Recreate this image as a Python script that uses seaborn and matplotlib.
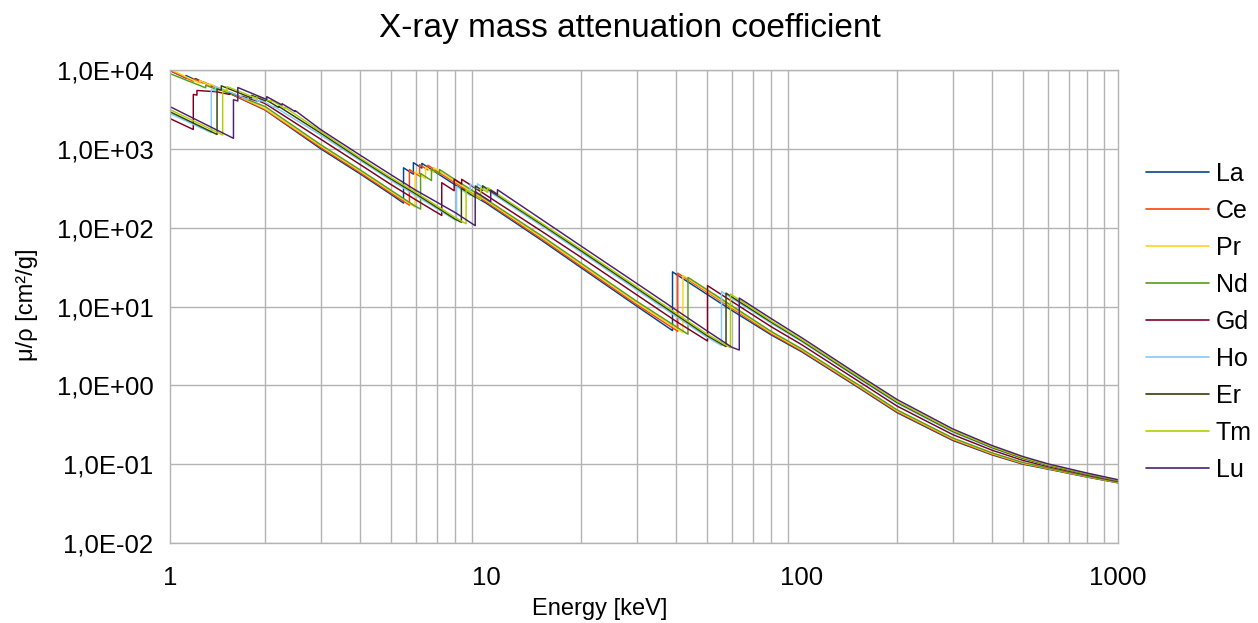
import numpy as np
import pandas as pd
import matplotlib
matplotlib.use('Agg')
import matplotlib.pyplot as plt
import matplotlib.ticker as mticker
import seaborn as sns

# mass attenuation coefficient mu/rho [cm2/g] vs photon energy [keV]
elements = ['La', 'Ce', 'Pr', 'Nd', 'Gd', 'Ho', 'Er', 'Tm', 'Lu']

la_energy = [1.0, 1.123, 1.123, 1.204, 1.204, 1.362, 1.362, 1.5, 2.0, 3.0,
             4.0, 5.0, 5.483, 5.483, 5.891, 5.891, 6.266, 6.266, 8.0, 10.0,
             15.0, 20.0, 30.0, 38.925, 38.925, 40.0, 50.0, 60.0, 80.0, 100.0,
             150.0, 200.0, 300.0, 400.0, 500.0, 600.0, 800.0, 1000.0]
la_mu = [9800, 7890, 8520, 7480, 7780, 6180, 6370, 5320, 3107, 1000,
         480, 265, 205, 575, 477, 668, 569, 655, 347, 205,
         69, 31, 10.1, 4.95, 27.5, 25.6, 14.3, 8.9, 4.35, 2.65,
         0.95, 0.45, 0.200, 0.131, 0.100, 0.0865, 0.0685, 0.058]

ce_energy = [1.0, 1.185, 1.185, 1.273, 1.273, 1.435, 1.435, 1.5, 2.0, 3.0,
             4.0, 5.0, 5.723, 5.723, 6.164, 6.164, 6.549, 6.549, 8.0, 10.0,
             15.0, 20.0, 30.0, 40.443, 40.443, 50.0, 60.0, 80.0, 100.0, 150.0,
             200.0, 300.0, 400.0, 500.0, 600.0, 800.0, 1000.0]
ce_mu = [9900, 7210, 7790, 6815, 7090, 5665, 5835, 5375, 3140, 1040,
         499, 276, 193, 547, 451, 631, 539, 620, 368, 214,
         72.1, 32.4, 10.58, 4.85, 26.5, 15.3, 9.5, 4.50, 2.73, 0.976,
         0.462, 0.205, 0.1336, 0.1016, 0.0876, 0.0691, 0.0584]

pr_energy = [1.0, 1.242, 1.242, 1.337, 1.337, 1.511, 1.511, 2.0, 3.0, 4.0,
             5.0, 5.964, 5.964, 6.440, 6.440, 6.835, 6.835, 8.0, 10.0, 15.0,
             20.0, 30.0, 41.991, 41.991, 50.0, 60.0, 80.0, 100.0, 150.0, 200.0,
             300.0, 400.0, 500.0, 600.0, 800.0, 1000.0]
pr_mu = [10200, 6800, 7345, 6400, 6650, 5295, 5455, 3230, 1083, 519,
         287, 183, 511, 418, 586, 502, 577, 383, 222, 75.3,
         33.9, 11.1, 4.65, 24.8, 15.7, 9.8, 4.65, 2.81, 1.00, 0.475,
         0.210, 0.136, 0.1033, 0.0884, 0.0697, 0.0588]

nd_energy = [1.0, 1.0, 1.297, 1.297, 1.403, 1.403, 1.575, 1.575, 2.0, 3.0,
             4.0, 5.0, 6.0, 6.208, 6.208, 6.722, 6.722, 7.126, 7.126, 8.0,
             10.0, 15.0, 20.0, 30.0, 43.569, 43.569, 50.0, 60.0, 80.0, 100.0,
             150.0, 200.0, 300.0, 400.0, 500.0, 600.0, 800.0, 1000.0]
nd_mu = [7500, 9000, 5940, 6415, 5660, 5885, 4890, 5040, 3437, 1127,
         540, 299, 185, 172, 487, 396, 554, 476, 547, 405,
         230, 78.7, 35.5, 11.63, 4.45, 23.4, 16.4, 10.2, 4.81, 2.89,
         1.03, 0.488, 0.215, 0.139, 0.105, 0.0893, 0.0703, 0.0591]

gd_energy = [1.0, 1.185, 1.185, 1.217, 1.217, 1.4, 1.544, 1.544, 1.688, 1.688,
             1.881, 1.881, 2.0, 3.0, 4.0, 5.0, 6.0, 7.243, 7.243, 7.930,
             7.930, 8.376, 8.376, 10.0, 15.0, 20.0, 30.0, 40.0, 50.239, 50.239,
             60.0, 80.0, 100.0, 150.0, 200.0, 300.0, 400.0, 500.0, 600.0, 800.0,
             1000.0]
gd_mu = [2420, 1760, 4900, 4800, 5500, 5300, 4900, 5200, 4500, 4650,
         4050, 4150, 3750, 1323, 631, 353, 225, 143, 372, 294,
         412, 358, 411, 259, 90, 42, 14.06, 6.47, 3.65, 18.4,
         11.6, 5.52, 3.26, 1.146, 0.545, 0.237, 0.150, 0.1118, 0.0932, 0.0726,
         0.0607]

ho_energy = [1.0, 1.351, 1.351, 1.392, 1.392, 1.5, 1.768, 1.768, 1.923, 1.923,
             2.0, 2.128, 2.128, 3.0, 4.0, 5.0, 6.0, 8.071, 8.071, 8.918,
             8.918, 9.394, 9.394, 10.0, 15.0, 20.0, 30.0, 40.0, 50.0, 55.618,
             55.618, 60.0, 80.0, 100.0, 150.0, 200.0, 300.0, 400.0, 500.0, 600.0,
             800.0, 1000.0]
ho_mu = [2800, 1600, 5600, 5450, 6200, 5500, 4230, 4570, 3995, 4155,
         3900, 3360, 3460, 1490, 710, 399, 255, 122, 332, 256,
         358, 313, 360, 306, 105, 48.7, 16.2, 7.45, 4.08, 3.2,
         15.5, 12.7, 6.11, 3.56, 1.24, 0.591, 0.254, 0.159, 0.1173, 0.0962,
         0.0744, 0.0619]

er_energy = [1.0, 1.409, 1.409, 1.453, 1.453, 1.5, 1.812, 1.812, 2.006, 2.006,
             2.206, 2.206, 3.0, 4.0, 5.0, 6.0, 8.0, 8.358, 8.358, 9.264,
             9.264, 9.751, 9.751, 10.0, 15.0, 20.0, 30.0, 40.0, 50.0, 57.486,
             57.486, 60.0, 80.0, 100.0, 150.0, 200.0, 300.0, 400.0, 500.0, 600.0,
             800.0, 1000.0]
er_mu = [2950, 1520, 5700, 5550, 6300, 6000, 4420, 4775, 4060, 4220,
         3360, 3460, 1580, 738, 416, 268, 128, 117, 316, 242,
         338, 296, 340, 318, 110, 50.9, 17.0, 7.82, 4.28, 3.1,
         14.8, 13.2, 6.32, 3.66, 1.27, 0.608, 0.261, 0.1625, 0.119, 0.0972,
         0.075, 0.0623]

tm_energy = [1.0, 1.468, 1.468, 1.515, 1.515, 1.885, 1.885, 2.0, 2.090, 2.090,
             2.307, 2.307, 3.0, 4.0, 5.0, 6.0, 8.0, 8.648, 8.648, 9.617,
             9.617, 10.0, 10.116, 10.116, 15.0, 20.0, 30.0, 40.0, 50.0, 59.39,
             59.39, 80.0, 100.0, 150.0, 200.0, 300.0, 400.0, 500.0, 600.0, 800.0,
             1000.0]
tm_mu = [3150, 1500, 5600, 5460, 6170, 4350, 4700, 4277, 3986, 4145,
         3270, 3370, 1662, 767, 433, 280, 134, 112, 301, 228,
         320, 289, 280, 322, 114, 53.3, 17.8, 8.2, 4.48, 3.0,
         14.4, 6.54, 3.77, 1.31, 0.625, 0.267, 0.1656, 0.121, 0.0983, 0.0756,
         0.0627]

lu_energy = [1.0, 1.588, 1.588, 1.639, 1.639, 2.0, 2.024, 2.024, 2.263, 2.263,
             2.491, 2.491, 3.0, 4.0, 5.0, 6.0, 8.0, 9.244, 9.244, 10.0,
             10.349, 10.349, 10.870, 10.870, 15.0, 20.0, 30.0, 40.0, 50.0, 60.0,
             63.314, 63.314, 80.0, 100.0, 150.0, 200.0, 300.0, 400.0, 500.0, 600.0,
             800.0, 1000.0]
lu_mu = [3430, 1360, 4200, 4050, 6000, 4300, 4250, 4590, 3590, 3735,
         2965, 3055, 1751, 830, 470, 298, 155, 106, 287, 234,
         214, 300, 264, 303, 127, 58.4, 19.6, 9.0, 4.92, 3.04,
         2.8, 12.8, 7.0, 4.0, 1.38, 0.66, 0.28, 0.172, 0.125, 0.101,
         0.077, 0.0635]

energies = [la_energy, ce_energy, pr_energy, nd_energy, gd_energy,
            ho_energy, er_energy, tm_energy, lu_energy]
mus = [la_mu, ce_mu, pr_mu, nd_mu, gd_mu, ho_mu, er_mu, tm_mu, lu_mu]

# libreoffice default series colours
colors = ['#004586', '#ff420e', '#ffd320', '#579d1c', '#7e0021',
          '#83caff', '#314004', '#aecf00', '#4b1f6f']

frames = []
for name, e, m in zip(elements, energies, mus):
    frames.append(pd.DataFrame({'element': name, 'energy': e, 'mu': m}))
df = pd.concat(frames, ignore_index=True)

sns.set_style('white')
plt.rcParams['font.family'] = ['Liberation Sans', 'DejaVu Sans']
plt.rcParams['text.color'] = 'black'
plt.rcParams['axes.labelcolor'] = 'black'
plt.rcParams['xtick.labelcolor'] = 'black'
plt.rcParams['ytick.labelcolor'] = 'black'

grid_col = '#b3b3b3'

fig = plt.figure(figsize=(12.58, 6.23), dpi=100)
ax = fig.add_axes([170 / 1258, 1 - 543 / 623, 948 / 1258, 473 / 623])
ax.set_xscale('log')
ax.set_yscale('log')

sns.lineplot(data=df, x='energy', y='mu', hue='element', hue_order=elements,
             palette=colors, estimator=None, sort=False, linewidth=1.05, ax=ax)

ax.set_xlim(1, 1000)
ax.set_ylim(1e-2, 1e4)

ax.xaxis.set_major_locator(mticker.FixedLocator([1, 10, 100, 1000]))
minor_x = [m * 10 ** d for d in range(3) for m in range(2, 10)]
ax.xaxis.set_minor_locator(mticker.FixedLocator(minor_x))
ax.xaxis.set_major_formatter(mticker.FuncFormatter(lambda v, p: f"{v:g}"))
ax.xaxis.set_minor_formatter(mticker.NullFormatter())
ax.yaxis.set_major_locator(mticker.FixedLocator([1e-2, 1e-1, 1e0, 1e1, 1e2, 1e3, 1e4]))
ax.yaxis.set_minor_locator(mticker.NullLocator())
ax.yaxis.set_major_formatter(mticker.FuncFormatter(
    lambda v, p: f"1,0E{int(round(np.log10(v))):+03d}"))

ax.grid(False)
ax.grid(which='minor', axis='x', color=grid_col, linewidth=1.0)
ax.grid(which='major', axis='y', color=grid_col, linewidth=1.0)
ax.set_axisbelow(True)

for s in ax.spines.values():
    s.set_color(grid_col)
    s.set_linewidth(1.0)

ax.tick_params(axis='x', which='major', direction='out', length=8.5, width=1,
               color=grid_col, labelsize=18.5, pad=8)
ax.tick_params(axis='x', which='minor', length=0, labelbottom=False)
ax.tick_params(axis='y', which='major', direction='out', length=7, width=1,
               color=grid_col, labelsize=18.5, pad=5)

ax.xaxis.label.set_visible(False)
ax.yaxis.label.set_visible(False)
fig.text(600 / 1258, 1 - 609 / 623, 'Energy [keV]', fontsize=17,
         ha='center', va='center')
fig.text(27 / 1258, 1 - 305 / 623, 'μ/ρ [cm²/g]', fontsize=17,
         ha='center', va='center', rotation=90)

fig.text(630 / 1258, 1 - 28 / 623, 'X-ray mass attenuation coefficient',
         fontsize=24, ha='center', va='center')

handles, labels = ax.get_legend_handles_labels()
ax.get_legend().remove()
for h in handles:
    h.set_linewidth(1.2)
fig.legend(handles, labels, loc='upper left',
           bbox_to_anchor=(1146 / 1258, 1 - 162 / 623),
           bbox_transform=fig.transFigure, frameon=False, fontsize=18,
           handlelength=2.5, handletextpad=0.3, labelspacing=0.52,
           borderpad=0, borderaxespad=0)

fig.savefig('out.png', dpi=100)
